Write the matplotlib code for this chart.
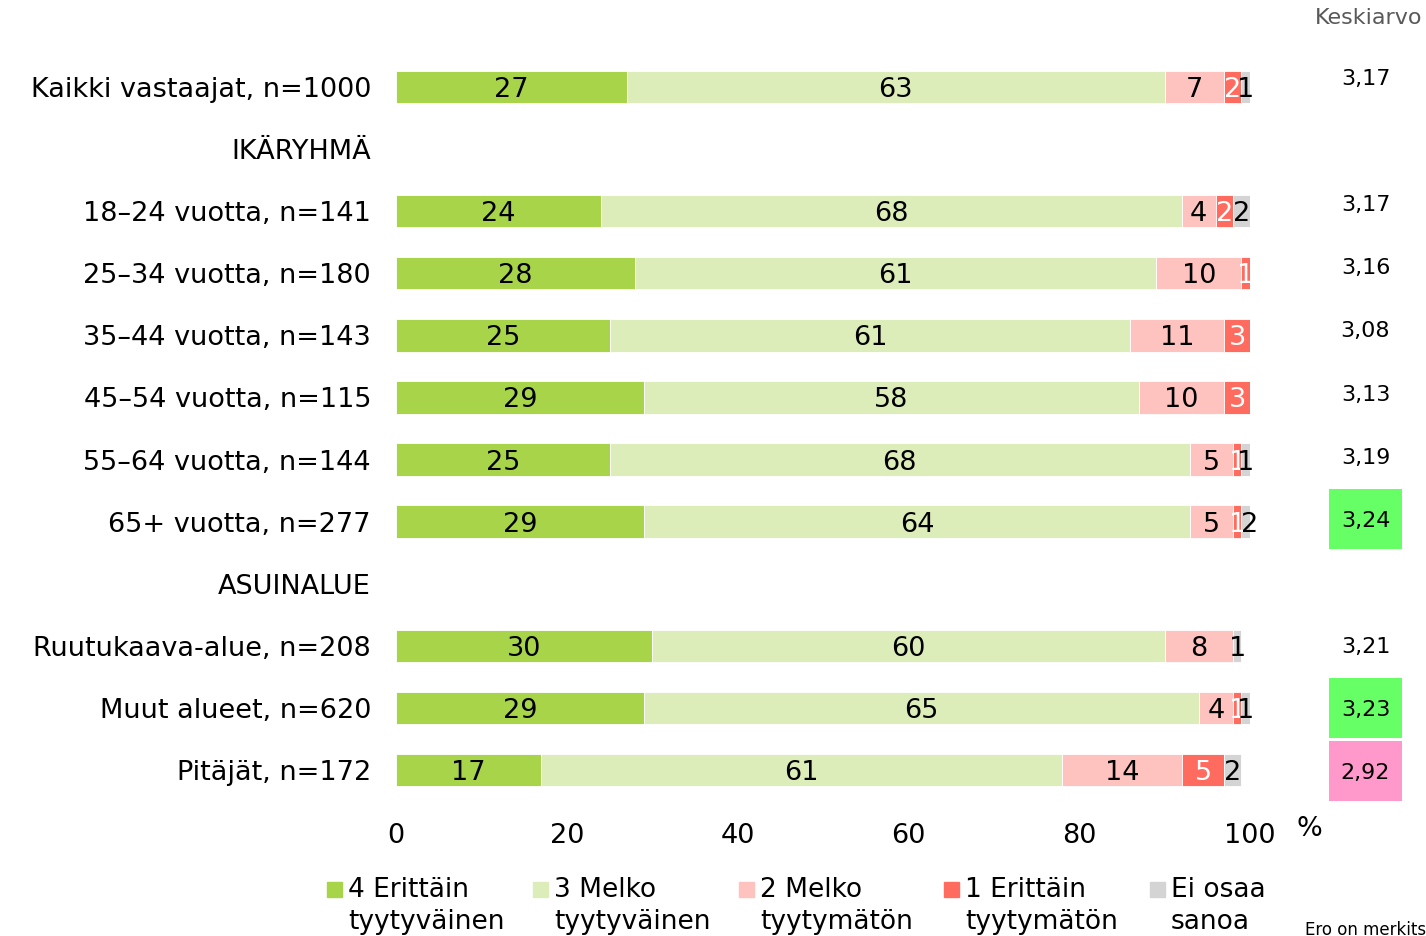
import numpy as np
import matplotlib
matplotlib.use("Agg")
import matplotlib.pyplot as plt
from matplotlib.patches import Rectangle

plt.rcParams['font.family'] = ['DejaVu Sans']

categories = ["Kaikki vastaajat, n=1000", "IKÄRYHMÄ", "18–24 vuotta, n=141",
              "25–34 vuotta, n=180", "35–44 vuotta, n=143", "45–54 vuotta, n=115",
              "55–64 vuotta, n=144", "65+ vuotta, n=277", "ASUINALUE",
              "Ruutukaava-alue, n=208", "Muut alueet, n=620", "Pitäjät, n=172"]
nan = np.nan
s4 = [27, nan, 24, 28, 25, 29, 25, 29, nan, 30, 29, 17]
s3 = [63, nan, 68, 61, 61, 58, 68, 64, nan, 60, 65, 61]
s2 = [7, nan, 4, 10, 11, 10, 5, 5, nan, 8, 4, 14]
s1 = [2, nan, 2, 1, 3, 3, 1, 1, nan, 0, 1, 5]
s0 = [1, nan, 2, 0.3, 0, 0, 1, 2, nan, 1, 1, 2]
series_names = ["4 Erittäin\ntyytyväinen", "3 Melko\ntyytyväinen", "2 Melko\ntyytymätön",
                "1 Erittäin\ntyytymätön", "Ei osaa\nsanoa"]
colors = ["#A8D44A", "#DDEDB9", "#FFC3BF", "#FF6B5E", "#D4D4D4"]
text_colors = ["black", "black", "black", "white", "black"]
means = [3.17, nan, 3.17, 3.16, 3.08, 3.13, 3.19, 3.24, nan, 3.21, 3.23, 2.92]
signif = ["", "", "", "", "", "", "", "+", "", "", "+", "-"]
sig_colors = {"+": "#66FF66", "-": "#FF99CC"}
xticks = [0, 20, 40, 60, 80, 100]

W, H = 1426, 936
fig = plt.figure(figsize=(W / 100, H / 100), dpi=100)

# main bar axes
top_px, bot_px = 56, 801
ax = fig.add_axes([396 / W, 1 - bot_px / H, 854 / W, (bot_px - top_px) / H])
y = np.arange(len(categories))
series = [s4, s3, s2, s1, s0]
left = np.zeros(len(categories))
fs = 19.5
for vals, col, tc in zip(series, colors, text_colors):
    v = np.array(vals, dtype=float)
    vv = np.nan_to_num(v)
    ax.barh(y, vv, left=left, height=0.52, color=col, edgecolor="white", linewidth=0.6)
    for i, val in enumerate(v):
        if not np.isnan(val) and val >= 0.5:
            ax.text(left[i] + val / 2, y[i], f"{int(round(val))}", ha="center",
                    va="center_baseline", fontsize=fs, color=tc)
    left = left + vv

ax.set_xlim(0, 100)
ax.set_ylim(len(categories) - 0.5, -0.5)
ax.set_yticks(y)
ax.set_yticklabels(categories, fontsize=fs)
ax.set_xticks(xticks)
ax.set_xticklabels([str(t) for t in xticks], fontsize=fs)
ax.tick_params(axis="y", length=0, pad=18)
ax.tick_params(axis="x", length=0, pad=16)
for sp in ax.spines.values():
    sp.set_visible(False)
for lab in ax.get_yticklabels():
    lab.set_verticalalignment("center_baseline")
ax.text(1.07, -0.038, "%", transform=ax.transAxes, ha="center", va="center", fontsize=fs)

# mean column axes
mtop, mbot = 45.5, 802.6
ax2 = fig.add_axes([1329 / W, 1 - mbot / H, 73 / W, (mbot - mtop) / H])
ax2.set_xlim(0, 1)
ax2.set_ylim(len(categories) - 0.5, -0.5)
ax2.axis("off")
for i, m in enumerate(means):
    if np.isnan(m):
        continue
    if signif[i]:
        ax2.barh(y[i], 1, left=0, height=0.95, color=sig_colors[signif[i]])
    ax2.text(0.5, y[i], f"{m:.2f}".replace(".", ","), ha="center", va="center_baseline",
             fontsize=16)

fig.text(1422 / W, 1 - 18 / H, "Keskiarvo", ha="right", va="center", fontsize=16, color="#595959")

# legend
leg_x = [327, 533, 739, 944, 1150]
for lx, name, col in zip(leg_x, series_names, colors):
    fig.patches.append(Rectangle((lx / W, 1 - 897 / H), 15 / W, 15 / H,
                                 transform=fig.transFigure, color=col))
    fig.text((lx + 21) / W, 1 - 877 / H, name, ha="left", va="top", fontsize=19,
             linespacing=1.3)

fig.text(1305 / W, 1 - 930 / H, "Ero on merkitsevä", ha="left", va="center", fontsize=12)

fig.savefig("out.png", dpi=100)
